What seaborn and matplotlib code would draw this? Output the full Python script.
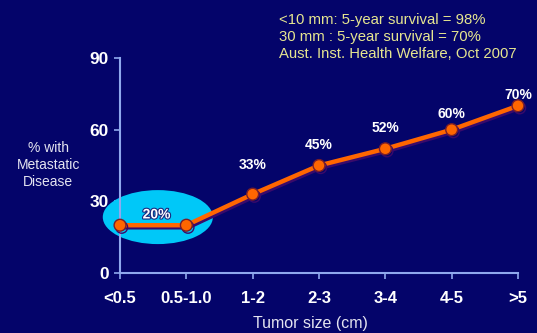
import matplotlib
matplotlib.use("Agg")
import matplotlib.pyplot as plt
import matplotlib.patheffects as pe
from matplotlib.patches import Ellipse
import seaborn as sns
import pandas as pd

# Tumour size groups and share of patients with metastatic disease
size_groups = ["<0.5", "0.5-1.0", "1-2", "2-3", "3-4", "4-5", ">5"]
metastatic_pct = [20, 20, 33, 45, 52, 60, 70]
point_labels = ["", "20%", "33%", "45%", "52%", "60%", "70%"]
y_ticks = [0, 30, 60, 90]
notes = [
    "<10 mm: 5-year survival = 98%",
    "30 mm : 5-year survival = 70%",
    "Aust. Inst. Health Welfare, Oct 2007",
]

BG = "#04046a"
AXIS = "#8fa8ee"
ORANGE = "#ff6600"
CYAN = "#00c8f8"
NOTE = "#e6e690"

# vertical gap (points) between each marker and its value label
label_gap = [0, 0, 16, 10, 10, 6, 3]

sns.set_theme(style="white")
plt.rcParams["font.family"] = ["Liberation Sans", "DejaVu Sans"]

df = pd.DataFrame({"pos": range(len(size_groups)), "pct": metastatic_pct,
                   "group": size_groups})

fig = plt.figure(figsize=(5.37, 3.33), dpi=100, facecolor=BG)
ax = fig.add_axes([0.2235, 0.1802, 0.7411, 0.6456], facecolor=BG)

# highlight around the two smallest size groups
x0, x1 = df["pos"].iloc[0], df["pos"].iloc[1]
ax.add_patch(Ellipse(((x0 + x1) / 2 + 0.07, df["pct"].iloc[0] + 3.4), 1.66, 22.6,
                     facecolor=CYAN, edgecolor="none", zorder=1, clip_on=False))

sns.lineplot(data=df, x="pos", y="pct", ax=ax, color=ORANGE, linewidth=3.2,
             marker="o", markersize=8.5, markeredgecolor="#7a1e2a",
             markeredgewidth=1.0, zorder=4, clip_on=False,
             path_effects=[pe.SimpleLineShadow(offset=(1.2, -1.5),
                                               shadow_color="#3a0a6a", alpha=1.0),
                           pe.Normal()])

for i, (x, y, lab) in enumerate(zip(df["pos"], df["pct"], point_labels)):
    if not lab:
        continue
    if i == 1:
        ax.text((x0 + x1) / 2 + 0.05, y + 4.5, lab, ha="center", va="center",
                color="white", fontsize=10, fontweight="bold", zorder=5,
                path_effects=[pe.withStroke(linewidth=1.6, foreground="#1a2a80")])
    else:
        ax.annotate(lab, (x, y), xytext=(0, label_gap[i]),
                    textcoords="offset points", ha="center", va="bottom",
                    color="white", fontsize=10, fontweight="bold", zorder=5,
                    annotation_clip=False)

ax.set_xlim(0, 6)
ax.set_ylim(0, 90)
ax.set_xticks(range(len(size_groups)))
ax.set_xticklabels(size_groups)
ax.set_yticks(y_ticks)
ax.tick_params(axis="both", colors=AXIS, length=4, width=1.2, direction="out",
               bottom=True, left=True)
ax.tick_params(axis="x", pad=9)
ax.tick_params(axis="y", pad=4)
for t in ax.get_xticklabels() + ax.get_yticklabels():
    t.set_color("white")
    t.set_fontweight("bold")
for t in ax.get_xticklabels():
    t.set_fontsize(12)
for t in ax.get_yticklabels():
    t.set_fontsize(12.5)

for side in ["top", "right"]:
    ax.spines[side].set_visible(False)
for side in ["left", "bottom"]:
    ax.spines[side].set_color(AXIS)
    ax.spines[side].set_linewidth(1.5)
    ax.spines[side].set_zorder(3)

ax.set_xlabel("")
ax.set_ylabel("")
fig.text(0.578, 0.03, "Tumor size (cm)", ha="center", va="center",
         color="#e4e4f0", fontsize=11.5)
fig.text(0.09, 0.505, "% with\nMetastatic\nDisease", ha="center", va="center",
         color="#e4e4f0", fontsize=10, linespacing=1.3)
for k, line in enumerate(notes):
    fig.text(0.519, 0.94 - k * 0.051, line, ha="left", va="center",
             color=NOTE, fontsize=10.7)

fig.savefig("out.png", dpi=100, facecolor=BG)
